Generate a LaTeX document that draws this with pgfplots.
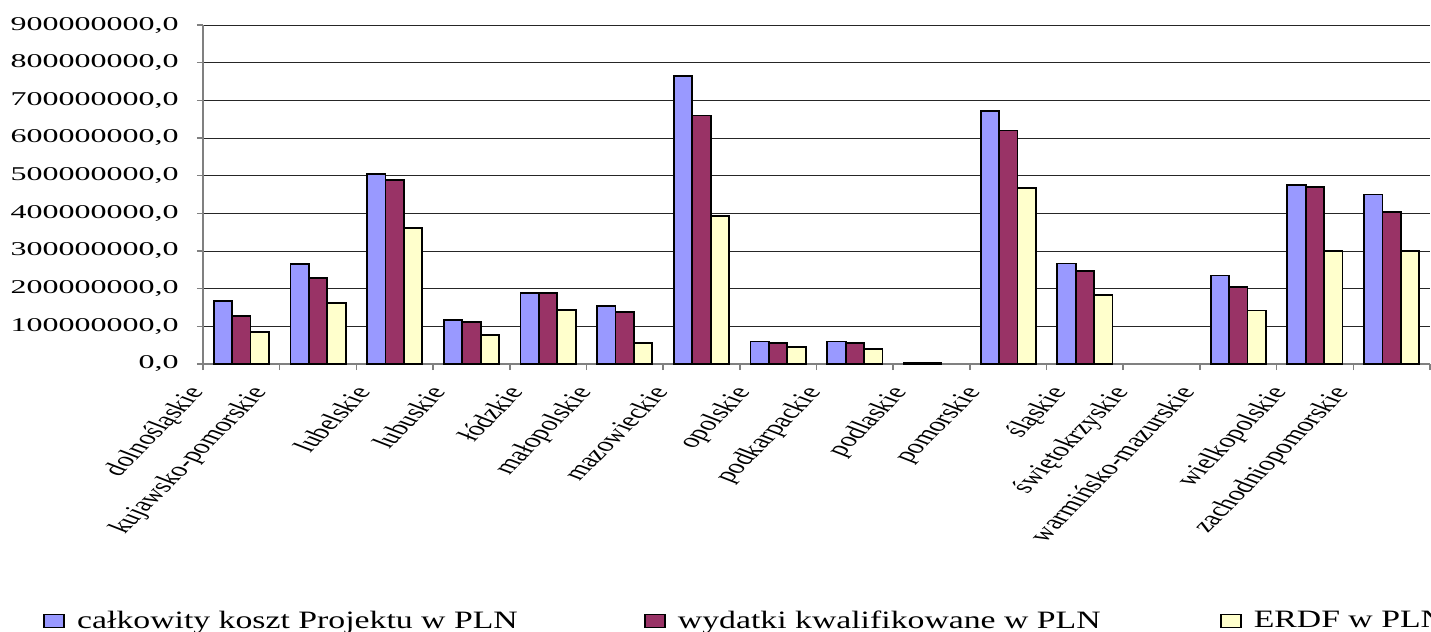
\documentclass[border=0pt]{standalone}
\usepackage{pgfplots}
\pgfplotsset{compat=1.18}
\usepackage{fontspec}
\setmainfont{Liberation Serif}
\newfontfamily\tickfont[FakeStretch=1.64]{Liberation Serif}
\newfontfamily\legfont[FakeStretch=1.35]{Liberation Serif}
\definecolor{cblue}{RGB}{153,153,255}
\definecolor{cmaroon}{RGB}{153,51,102}
\definecolor{cyellow}{RGB}{255,255,204}
\pgfplotsset{
  mybar/.style={fill=#1, draw=black, line width=0.9pt,
    legend image code/.code={\draw[fill=#1, draw=black, line width=0.9pt] (0pt,-3.25pt) rectangle (10pt,3.25pt);}},
}
\begin{document}
\begin{tikzpicture}
\path[use as bounding box] (-101.5pt,-134pt) rectangle (614pt,182pt);
\begin{axis}[
  at={(0,0)}, anchor=south west,
  scale only axis, width=613.5pt, height=169.5pt,
  ybar=0pt, bar width=9.2pt,
  xmin=-0.5, xmax=15.5, ymin=0, ymax=900000000,
  scaled y ticks=false,
  axis x line*=bottom, axis y line*=left,
  axis line style={draw=black!50, line width=1pt, -},
  xtick={-0.48,0.34,1.70,2.68,3.69,4.58,5.58,6.65,7.57,8.69,9.65,10.77,11.58,12.45,13.64,14.45},
  xticklabels={dolnośląskie,kujawsko-pomorskie,lubelskie,lubuskie,łódzkie,małopolskie,mazowieckie,opolskie,podkarpackie,podlaskie,pomorskie,śląskie,świętokrzyskie,warmińsko-mazurskie,wielkopolskie,zachodniopomorskie},
  major x tick style={draw=none},
  minor xtick={-0.5,0.5,...,15.5},
  minor tick length=3pt,
  tick align=outside,
  minor x tick style={draw=black!50, line width=0.8pt},
  xticklabel style={font=\fontsize{10}{12}\selectfont, anchor=base east, inner sep=0pt, yshift=-11pt, cm={0.848,0.848,-1.357,0.530,(0,0)}},
  ytick={0,100000000,200000000,300000000,400000000,500000000,600000000,700000000,800000000,900000000},
  yticklabels={{0,0},{100000000,0},{200000000,0},{300000000,0},{400000000,0},{500000000,0},{600000000,0},{700000000,0},{800000000,0},{900000000,0}},
  yticklabel style={font=\tickfont\fontsize{9.75}{11}\selectfont, anchor=east, inner sep=0pt, xshift=-9pt},
  major y tick style={draw=black!50, line width=0.8pt},
  major tick length=3pt,
  ymajorgrids, grid style={draw=black!85, line width=0.5pt},
  legend columns=3,
  legend cell align=left,
  legend style={at={(-0.1304,-0.758)}, anchor=west, draw=none, fill=none, inner sep=0pt,
    nodes={inner sep=0pt}, font=\legfont\fontsize{12.5}{14}\selectfont,
    /tikz/every odd column/.append style={column sep=6pt}},
]
\addplot[mybar=cblue] coordinates {(0,167000000) (1,265000000) (2,504000000) (3,117000000) (4,189000000) (5,153000000) (6,764000000) (7,60000000) (8,60000000) (9,4000000) (10,672000000) (11,267000000) (13,235000000) (14,476000000) (15,450000000)};
\addplot[mybar=cmaroon] coordinates {(0,127000000) (1,229000000) (2,488000000) (3,111000000) (4,189000000) (5,138000000) (6,660000000) (7,55000000) (8,55000000) (9,4000000) (10,620000000) (11,246000000) (13,204000000) (14,469000000) (15,404000000)};
\addplot[mybar=cyellow] coordinates {(0,86000000) (1,163000000) (2,361000000) (3,76000000) (4,143000000) (5,56000000) (6,394000000) (7,46000000) (8,40000000) (10,467000000) (11,184000000) (13,142000000) (14,301000000) (15,301000000)};
\addlegendentry{\makebox[283.5pt][l]{całkowity koszt Projektu w PLN}}
\addlegendentry{\makebox[271pt][l]{wydatki kwalifikowane w PLN}}
\addlegendentry{ERDF w PLN}
\end{axis}
\end{tikzpicture}
\end{document}
